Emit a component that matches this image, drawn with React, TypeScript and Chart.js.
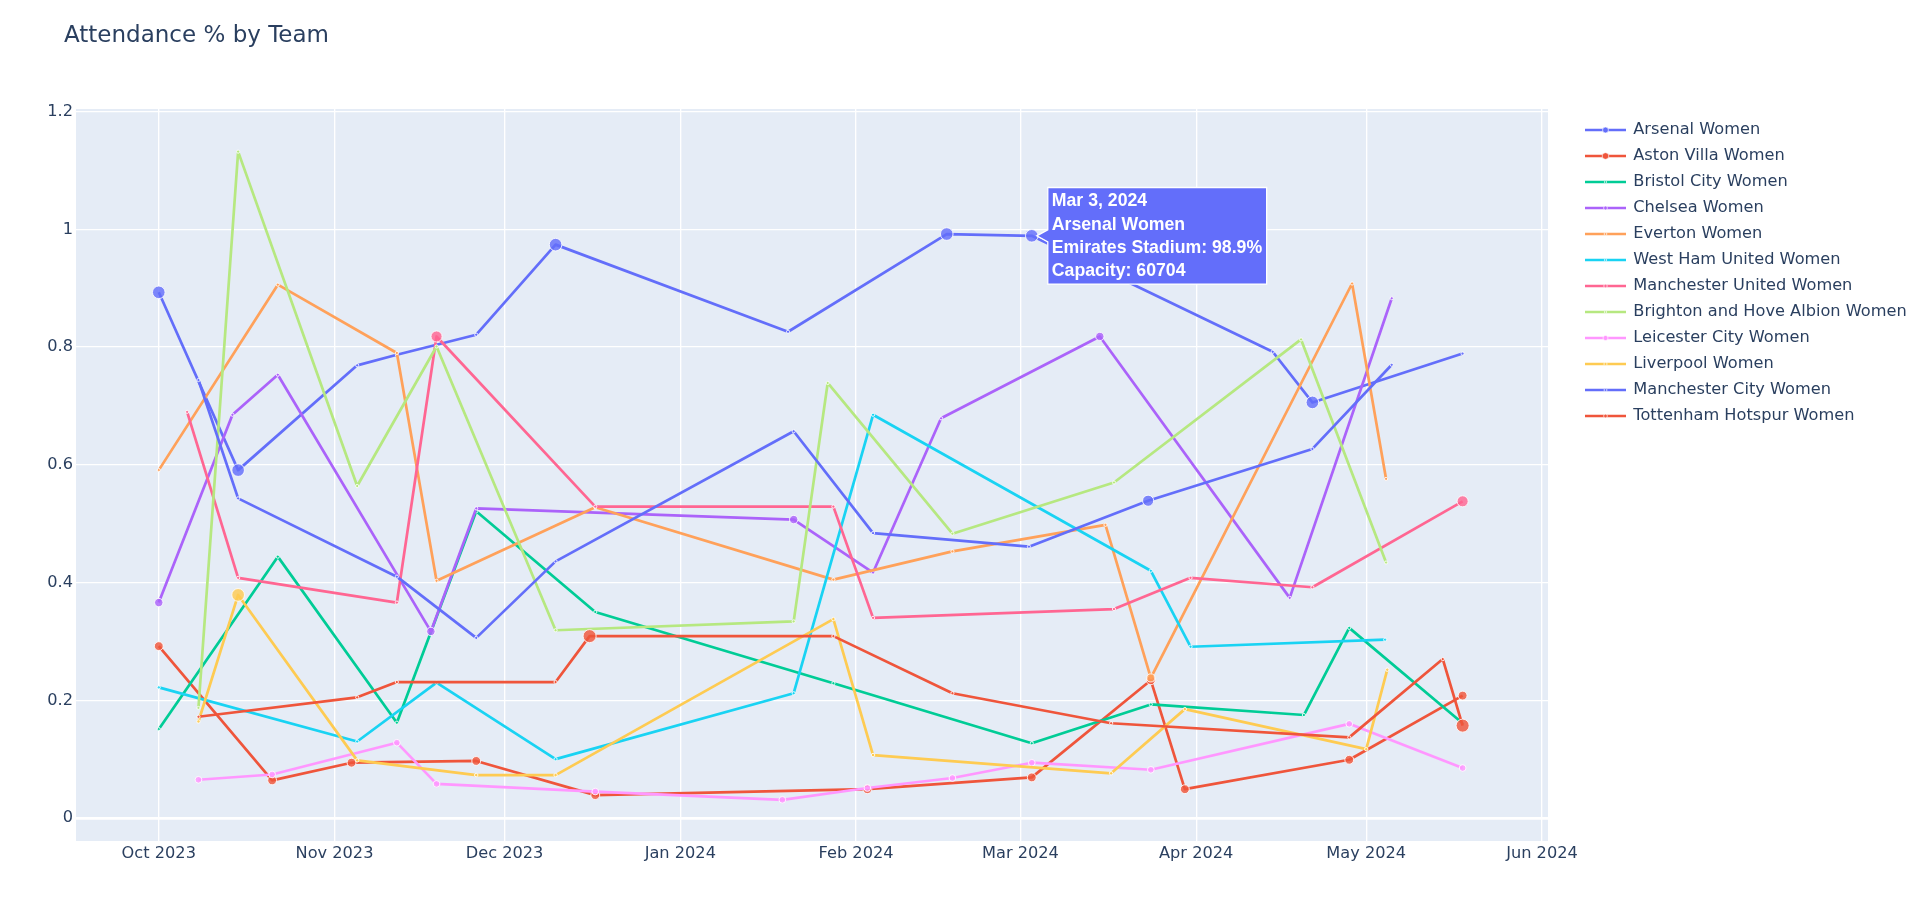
import React, { useEffect, useRef } from 'react';
import { Chart, registerables } from 'chart.js';

Chart.register(...registerables);

// ---------------- data ----------------
const teams = [
  'Arsenal Women',
  'Aston Villa Women',
  'Bristol City Women',
  'Chelsea Women',
  'Everton Women',
  'West Ham United Women',
  'Manchester United Women',
  'Brighton and Hove Albion Women',
  'Leicester City Women',
  'Liverpool Women',
  'Manchester City Women',
  'Tottenham Hotspur Women',
];

const arsenalDates = ['2023-10-01', '2023-10-15', '2023-11-05', '2023-11-12', '2023-11-26', '2023-12-10', '2024-01-20', '2024-02-17', '2024-03-03', '2024-04-14T12:00', '2024-04-21T12:00', '2024-05-18'];
const arsenalValues = [0.893, 0.591, 0.769, 0.787, 0.821, 0.974, 0.826, 0.992, 0.989, 0.792, 0.706, 0.789];
const arsenalCapacity = [60704, 60704, 4500, 4500, 4500, 60704, 4500, 60704, 60704, 4500, 60704, 4500];

const astonVillaDates = ['2023-10-01', '2023-10-21', '2023-11-04', '2023-11-26', '2023-12-17', '2024-02-03', '2024-03-03', '2024-03-24', '2024-03-30', '2024-04-28', '2024-05-18'];
const astonVillaValues = [0.292, 0.064, 0.094, 0.097, 0.039, 0.049, 0.069, 0.234, 0.049, 0.099, 0.208];
const astonVillaCapacity = [42640, 42640, 42640, 42640, 42640, 42640, 42640, 42640, 42640, 42640, 42640];

const bristolDates = ['2023-10-01', '2023-10-22', '2023-11-12', '2023-11-26', '2023-12-17', '2024-01-28', '2024-03-03', '2024-03-24', '2024-04-20', '2024-04-28', '2024-05-18'];
const bristolValues = [0.151, 0.444, 0.162, 0.521, 0.35, 0.229, 0.127, 0.193, 0.175, 0.323, 0.161];
const bristolCapacity = [2500, 2500, 2500, 2500, 2500, 2500, 2500, 2500, 2500, 2500, 2500];

const chelseaDates = ['2023-10-01', '2023-10-14', '2023-10-22', '2023-11-18', '2023-11-26', '2024-01-21', '2024-02-04', '2024-02-16', '2024-03-15', '2024-04-17T12:00', '2024-05-05T12:00'];
const chelseaValues = [0.366, 0.685, 0.753, 0.317, 0.526, 0.507, 0.417, 0.679, 0.818, 0.374, 0.883];
const chelseaCapacity = [40343, 4850, 4850, 40343, 4850, 40343, 4850, 4850, 40343, 4850, 4850];

const evertonDates = ['2023-10-01', '2023-10-22', '2023-11-12', '2023-11-19', '2023-12-17', '2024-01-28', '2024-02-18', '2024-03-16', '2024-03-24', '2024-04-28T12:00', '2024-05-04T12:00'];
const evertonValues = [0.591, 0.906, 0.79, 0.403, 0.528, 0.405, 0.453, 0.498, 0.238, 0.908, 0.576];
const evertonCapacity = [2200, 2200, 2200, 2200, 2200, 2200, 2200, 2200, 39414, 2200, 2200];

const westHamDates = ['2023-10-01', '2023-11-05', '2023-11-19', '2023-12-10', '2024-01-21', '2024-02-04', '2024-03-24', '2024-03-31', '2024-05-04T08:00'];
const westHamValues = [0.222, 0.13, 0.23, 0.1, 0.212, 0.685, 0.42, 0.291, 0.303];
const westHamCapacity = [6078, 6078, 6078, 6078, 6078, 6078, 6078, 6078, 6078];

const manUtdDates = ['2023-10-06', '2023-10-15', '2023-11-12', '2023-11-19', '2023-12-17', '2024-01-28', '2024-02-04', '2024-03-17T12:00', '2024-03-31', '2024-04-21T12:00', '2024-05-18'];
const manUtdValues = [0.69, 0.408, 0.366, 0.818, 0.529, 0.529, 0.34, 0.355, 0.408, 0.392, 0.538];
const manUtdCapacity = [12000, 12000, 12000, 53400, 12000, 12000, 12000, 12000, 12000, 12000, 53400];

const brightonDates = ['2023-10-08', '2023-10-15', '2023-11-05', '2023-11-19', '2023-12-10', '2024-01-21', '2024-01-27', '2024-02-18', '2024-03-17T12:00', '2024-04-19T12:00', '2024-05-04T12:00'];
const brightonValues = [0.187, 1.132, 0.564, 0.801, 0.319, 0.334, 0.739, 0.483, 0.57, 0.813, 0.434];
const brightonCapacity = [6134, 6134, 6134, 6134, 6134, 6134, 6134, 6134, 6134, 6134, 6134];

const leicesterDates = ['2023-10-08', '2023-10-21', '2023-11-12', '2023-11-19', '2023-12-17', '2024-01-19', '2024-02-03', '2024-02-18', '2024-03-03', '2024-03-24', '2024-04-28', '2024-05-18'];
const leicesterValues = [0.065, 0.074, 0.128, 0.058, 0.045, 0.031, 0.051, 0.068, 0.094, 0.082, 0.16, 0.085];
const leicesterCapacity = [32259, 32259, 32259, 32259, 32259, 32259, 32259, 32259, 32259, 32259, 32259, 32259];

const liverpoolDates = ['2023-10-08', '2023-10-15', '2023-11-05', '2023-11-26', '2023-12-10', '2024-01-28', '2024-02-04', '2024-03-17', '2024-03-30', '2024-05-01', '2024-05-04T17:00'];
const liverpoolValues = [0.164, 0.379, 0.098, 0.073, 0.073, 0.338, 0.107, 0.076, 0.185, 0.117, 0.252];
const liverpoolCapacity = [16587, 61276, 16587, 16587, 16587, 16587, 16587, 16587, 16587, 16587, 16587];

const manCityDates = ['2023-10-08', '2023-10-15', '2023-11-12', '2023-11-26', '2023-12-10', '2024-01-21', '2024-02-04', '2024-03-02T12:00', '2024-03-23T12:30', '2024-04-21T12:00', '2024-05-05T12:00'];
const manCityValues = [0.744, 0.543, 0.41, 0.306, 0.436, 0.657, 0.484, 0.461, 0.539, 0.627, 0.77];
const manCityCapacity = [7000, 7000, 7000, 7000, 7000, 7000, 7000, 7000, 53400, 7000, 7000];

const tottenhamDates = ['2023-10-08', '2023-11-05', '2023-11-12', '2023-12-10', '2023-12-16', '2024-01-28', '2024-02-18', '2024-03-17', '2024-04-28', '2024-05-14T12:00', '2024-05-18'];
const tottenhamValues = [0.172, 0.205, 0.231, 0.231, 0.309, 0.309, 0.212, 0.161, 0.137, 0.27, 0.157];
const tottenhamCapacity = [9271, 9271, 9271, 9271, 62850, 9271, 9271, 9271, 9271, 9271, 62850];

const monthTickDates = ['2023-10-01', '2023-11-01', '2023-12-01', '2024-01-01', '2024-02-01', '2024-03-01', '2024-04-01', '2024-05-01', '2024-06-01'];
const yTickValues = [0, 0.2, 0.4, 0.6, 0.8, 1, 1.2];

// hovered point shown in the reference
const hoverTeam = 0;
const hoverPoint = 8;
const hoverVenue = 'Emirates Stadium';

// ---------------- helpers / styling ----------------
const seriesDates = [arsenalDates, astonVillaDates, bristolDates, chelseaDates, evertonDates, westHamDates, manUtdDates, brightonDates, leicesterDates, liverpoolDates, manCityDates, tottenhamDates];
const seriesValues = [arsenalValues, astonVillaValues, bristolValues, chelseaValues, evertonValues, westHamValues, manUtdValues, brightonValues, leicesterValues, liverpoolValues, manCityValues, tottenhamValues];
const seriesCapacity = [arsenalCapacity, astonVillaCapacity, bristolCapacity, chelseaCapacity, evertonCapacity, westHamCapacity, manUtdCapacity, brightonCapacity, leicesterCapacity, liverpoolCapacity, manCityCapacity, tottenhamCapacity];
const palette = ['#636efa', '#EF553B', '#00cc96', '#ab63fa', '#FFA15A', '#19d3f3', '#FF6692', '#B6E880', '#FF97FF', '#FECB52', '#636efa', '#EF553B'];

const DAY = 86400000;
const toMs = (s: string) => Date.parse(s.length === 10 ? s + 'T00:00Z' : s + 'Z');
const MONTHS = ['Jan', 'Feb', 'Mar', 'Apr', 'May', 'Jun', 'Jul', 'Aug', 'Sep', 'Oct', 'Nov', 'Dec'];
const fmtMonth = (v: number) => {
  const d = new Date(v);
  return `${MONTHS[d.getUTCMonth()]} ${d.getUTCFullYear()}`;
};
const fmtDay = (v: number) => {
  const d = new Date(v);
  return `${MONTHS[d.getUTCMonth()]} ${d.getUTCDate()}, ${d.getUTCFullYear()}`;
};
const rgba = (hex: string, a: number) => {
  const n = parseInt(hex.slice(1), 16);
  return `rgba(${(n >> 16) & 255},${(n >> 8) & 255},${n & 255},${a})`;
};
const radiusFor = (cap: number) => Math.max(1.6, (6.3 * cap) / 60704);

const TEXT = '#2a3f5f';
const FONT = '"DejaVu Sans", Verdana, sans-serif';

const X_MIN = toMs('2023-10-01') - 14.6 * DAY;
const X_MAX = toMs('2024-06-01') + 1.06 * DAY;

const bgPlugin = {
  id: 'plotBg',
  beforeDraw(chart: any) {
    const { ctx, chartArea } = chart;
    ctx.save();
    ctx.fillStyle = '#ffffff';
    ctx.fillRect(0, 0, chart.width, chart.height);
    ctx.fillStyle = '#E5ECF6';
    ctx.fillRect(chartArea.left, chartArea.top, chartArea.right - chartArea.left, chartArea.bottom - chartArea.top);
    ctx.restore();
  },
};

const decorPlugin = {
  id: 'decor',
  afterDraw(chart: any) {
    const ctx = chart.ctx;
    ctx.save();
    // title
    ctx.font = `23px ${FONT}`;
    ctx.fillStyle = TEXT;
    ctx.textBaseline = 'alphabetic';
    ctx.textAlign = 'left';
    ctx.fillText('Attendance % by Team', 64, 41.7);

    // legend
    ctx.font = `16.2px ${FONT}`;
    ctx.textBaseline = 'middle';
    teams.forEach((name, i) => {
      const y = 130 + 26 * i;
      const c = palette[i];
      ctx.strokeStyle = c;
      ctx.lineWidth = 2.7;
      ctx.beginPath();
      ctx.moveTo(1585, y);
      ctx.lineTo(1626, y);
      ctx.stroke();
      const caps = seriesCapacity[i];
      const meanR = caps.reduce((a, b) => a + radiusFor(b), 0) / caps.length;
      const r = Math.min(3.6, meanR * 0.75);
      ctx.beginPath();
      ctx.arc(1605.5, y, r, 0, Math.PI * 2);
      ctx.fillStyle = c;
      ctx.fill();
      ctx.lineWidth = 0.8;
      ctx.strokeStyle = 'rgba(255,255,255,0.8)';
      ctx.stroke();
      ctx.fillStyle = TEXT;
      ctx.fillText(name, 1633.3, y);
    });

    // hover label
    const xs = chart.scales.x;
    const ys = chart.scales.y;
    const dates = seriesDates[hoverTeam];
    const vals = seriesValues[hoverTeam];
    const caps = seriesCapacity[hoverTeam];
    const px = xs.getPixelForValue(toMs(dates[hoverPoint]));
    const py = ys.getPixelForValue(vals[hoverPoint]);
    const lines = [
      fmtDay(toMs(dates[hoverPoint])),
      teams[hoverTeam],
      `${hoverVenue}: ${(vals[hoverPoint] * 100).toFixed(1)}%`,
      `Capacity: ${caps[hoverPoint]}`,
    ];
    ctx.font = `bold 17.7px "Liberation Sans", Arial, sans-serif`;
    const w = Math.max(...lines.map((l) => ctx.measureText(l).width)) + 8.5;
    const lh = 23.3;
    const h = lines.length * lh + 3.4;
    const bx = px + 16;
    const by = py - h / 2;
    ctx.beginPath();
    ctx.moveTo(px + 5, py);
    ctx.lineTo(bx, py - 6);
    ctx.lineTo(bx, by);
    ctx.lineTo(bx + w, by);
    ctx.lineTo(bx + w, by + h);
    ctx.lineTo(bx, by + h);
    ctx.lineTo(bx, py + 6);
    ctx.closePath();
    ctx.fillStyle = palette[hoverTeam];
    ctx.fill();
    ctx.lineWidth = 1.3;
    ctx.strokeStyle = '#ffffff';
    ctx.stroke();
    ctx.fillStyle = '#ffffff';
    ctx.textBaseline = 'middle';
    lines.forEach((l, i) => ctx.fillText(l, bx + 4, by + 14 + i * lh));
    ctx.restore();
  },
};

export default function App() {
  const ref = useRef<HTMLCanvasElement>(null);

  useEffect(() => {
    if (!ref.current) return;
    const datasets = teams.map((name, i) => ({
      label: name,
      data: seriesDates[i].map((d, j) => ({ x: toMs(d), y: seriesValues[i][j] })),
      borderColor: palette[i],
      backgroundColor: palette[i],
      borderWidth: 2.7,
      borderJoinStyle: 'round' as const,
      tension: 0,
      fill: false,
      pointRadius: seriesCapacity[i].map(radiusFor),
      pointHoverRadius: seriesCapacity[i].map(radiusFor),
      pointBackgroundColor: rgba(palette[i], 0.82),
      pointBorderColor: 'rgba(255,255,255,0.85)',
      pointBorderWidth: 1,
      order: teams.length - i,
    }));

    const chart = new Chart(ref.current, {
      type: 'line',
      data: { datasets },
      options: {
        animation: false,
        responsive: false,
        devicePixelRatio: 1,
        events: [],
        layout: { padding: { top: 109, right: 372, left: 0, bottom: 0 } },
        plugins: {
          legend: { display: false },
          tooltip: { enabled: false },
          title: { display: false },
        },
        scales: {
          x: {
            type: 'linear',
            min: X_MIN,
            max: X_MAX,
            afterFit: (s: any) => {
              s.height = 66;
            },
            afterBuildTicks: (s: any) => {
              s.ticks = monthTickDates.map((d) => ({ value: toMs(d) }));
            },
            ticks: {
              autoSkip: false,
              maxRotation: 0,
              padding: 3,
              color: TEXT,
              font: { family: FONT, size: 16.2 },
              callback: (v: any) => fmtMonth(Number(v)),
            },
            grid: { color: '#ffffff', lineWidth: 1.35, drawTicks: false },
            border: { display: false },
          },
          y: {
            type: 'linear',
            min: -0.039,
            max: 1.2044,
            afterFit: (s: any) => {
              s.width = 76;
            },
            afterBuildTicks: (s: any) => {
              s.ticks = yTickValues.map((v) => ({ value: v }));
            },
            ticks: {
              padding: 3,
              color: TEXT,
              font: { family: FONT, size: 16.2 },
              callback: (v: any) => String(Number(v)),
            },
            grid: {
              color: '#ffffff',
              lineWidth: (ctx: any) => (ctx.tick && ctx.tick.value === 0 ? 2.7 : 1.35),
              drawTicks: false,
            },
            border: { display: false },
          },
        },
      },
      plugins: [bgPlugin, decorPlugin],
    } as any);

    return () => chart.destroy();
  }, []);

  return (
    <div style={{ position: 'absolute', left: 0, top: 0, width: 1920, height: 907, background: '#ffffff' }}>
      <canvas ref={ref} width={1920} height={907} style={{ width: 1920, height: 907, display: 'block' }} />
    </div>
  );
}
